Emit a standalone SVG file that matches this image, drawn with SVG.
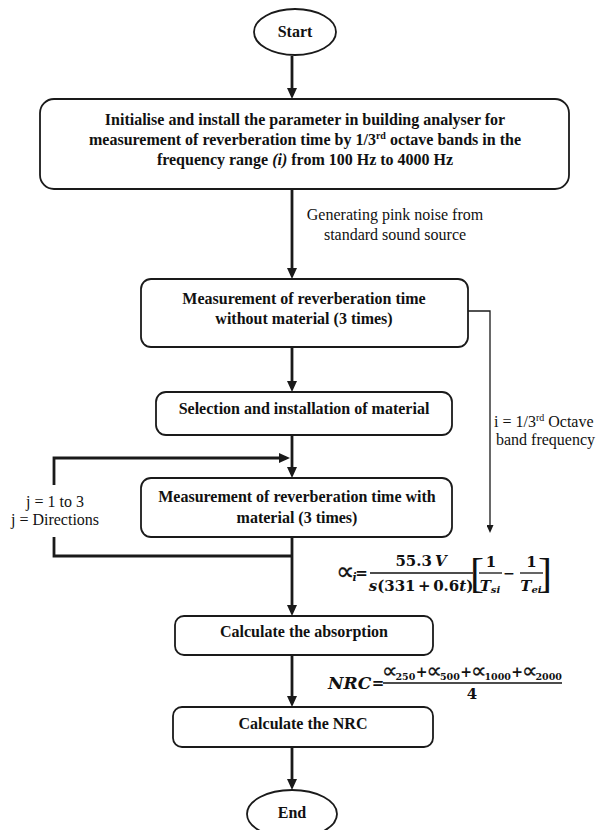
<svg xmlns="http://www.w3.org/2000/svg" width="596" height="830" viewBox="0 0 596 830">
<defs>
<style>
.box{fill:#fff;stroke:#1a1a1a;stroke-width:1.8}
.t{font-family:"Liberation Serif","Times New Roman",serif;font-size:16px;font-weight:bold;fill:#111;text-anchor:middle}
.n{font-family:"Liberation Serif","Times New Roman",serif;font-size:16px;fill:#111}
.c{fill:none;stroke:#1a1a1a;stroke-width:2.8}
.thin{fill:none;stroke:#1a1a1a;stroke-width:1.3}
.m{font-family:"DejaVu Serif",serif;font-weight:bold;fill:#111;stroke:none}
.p{font-family:"DejaVu Sans","Noto Sans",sans-serif;font-weight:normal;fill:#111;stroke:#111;stroke-width:0.25}
.br{font-family:"Liberation Serif",serif;font-size:42px;fill:#111}
.bar{stroke:#111;stroke-width:1.3}
</style>
<marker id="ah" viewBox="0 0 11 10" markerWidth="11" markerHeight="10" refX="7" refY="5" orient="auto" markerUnits="userSpaceOnUse">
<path d="M0,0 L11,5 L0,10 z" fill="#1a1a1a"/>
</marker>
<marker id="ahs" viewBox="0 0 8 7" markerWidth="8" markerHeight="7" refX="6" refY="3.5" orient="auto" markerUnits="userSpaceOnUse">
<path d="M0,0 L8,3.5 L0,7 z" fill="#1a1a1a"/>
</marker>
</defs>
<rect width="596" height="830" fill="#fff"/>

<g id="connectors">
<path class="c" d="M292,56 V95" marker-end="url(#ah)"/>
<path class="c" d="M292,189 V275" marker-end="url(#ah)"/>
<path class="c" d="M292,347 V388" marker-end="url(#ah)"/>
<path class="c" d="M292,435 V474" marker-end="url(#ah)"/>
<path class="c" d="M54,485 V458 H286" marker-end="url(#ah)"/>
<path class="c" d="M292,556 H54 V537"/>
<path class="c" d="M292,537 V612" marker-end="url(#ah)"/>
<path class="c" d="M292,655 V703" marker-end="url(#ah)"/>
<path class="c" d="M292,747 V786" marker-end="url(#ah)"/>
<path class="thin" d="M468,311 H490 V531" marker-end="url(#ahs)"/>
</g>

<g id="start">
<ellipse cx="295" cy="32" rx="41" ry="23" class="box"/>
<text class="t" x="295" y="37">Start</text>
</g>

<g id="init">
<rect class="box" x="40" y="99" width="529" height="90" rx="14"/>
<text class="t" x="305" y="125">Initialise and install the parameter in building analyser for</text>
<text class="t" x="305" y="145">measurement of reverberation time by 1/3<tspan font-size="10" dy="-6">rd</tspan><tspan dy="6"> octave bands in the</tspan></text>
<text class="t" x="305" y="165">frequency range <tspan font-style="italic">(i)</tspan> from 100 Hz to 4000 Hz</text>
</g>

<g id="label-pink">
<text class="n" x="395" y="220" text-anchor="middle">Generating pink noise from</text>
<text class="n" x="395" y="240" text-anchor="middle">standard sound source</text>
</g>

<g id="without">
<rect class="box" x="141" y="279" width="327" height="68" rx="10"/>
<text class="t" x="304" y="304">Measurement of reverberation time</text>
<text class="t" x="304" y="324">without material (3 times)</text>
</g>

<g id="label-i">
<text class="n" x="494" y="427">i = 1/3<tspan font-size="10" dy="-6">rd</tspan><tspan dy="6"> Octave</tspan></text>
<text class="n" x="496" y="445">band frequency</text>
</g>

<g id="select">
<rect class="box" x="156" y="392" width="296" height="43" rx="10"/>
<text class="t" x="304" y="414">Selection and installation of material</text>
</g>

<g id="label-j">
<text class="n" x="55" y="507" text-anchor="middle">j = 1 to 3</text>
<text class="n" x="55" y="525" text-anchor="middle">j = Directions</text>
</g>

<g id="with">
<rect class="box" x="141" y="478" width="311" height="59" rx="10"/>
<text class="t" x="297" y="502">Measurement of reverberation time with</text>
<text class="t" x="297" y="523">material (3 times)</text>
</g>

<g id="formula-alpha">
<text class="p" x="336" y="580" font-size="26">∝<tspan class="m" font-size="11" font-style="italic" x="352.5" y="581">i</tspan></text>
<text class="m" x="361.5" y="578" font-size="15" text-anchor="middle">=</text>
<line class="bar" x1="370" y1="573" x2="473" y2="573"/>
<text class="m" x="421" y="566" font-size="15" text-anchor="middle">55.3<tspan font-style="italic" dx="3">V</tspan></text>
<text class="m" x="421" y="591" font-size="15" text-anchor="middle"><tspan font-style="italic">s</tspan>(331<tspan dx="2.5">+</tspan><tspan dx="2.5">0.6</tspan><tspan font-style="italic">t</tspan>)</text>
<text class="br" x="470" y="587">[</text>
<text class="m" x="491" y="567" font-size="15" text-anchor="middle">1</text>
<line class="bar" x1="479" y1="573" x2="502" y2="573"/>
<text class="m" x="490" y="591" font-size="15" text-anchor="middle" font-style="italic">T<tspan font-size="10" dy="2">si</tspan></text>
<text class="m" x="509" y="578" font-size="14" text-anchor="middle">−</text>
<text class="m" x="531.5" y="567" font-size="15" text-anchor="middle">1</text>
<line class="bar" x1="520" y1="573" x2="543" y2="573"/>
<text class="m" x="531" y="591" font-size="15" text-anchor="middle" font-style="italic">T<tspan font-size="10" dy="2">ei</tspan></text>
<text class="br" x="538" y="587">]</text>
</g>

<g id="absorption">
<rect class="box" x="175" y="616" width="258" height="39" rx="9"/>
<text class="t" x="304" y="637">Calculate the absorption</text>
</g>

<g id="formula-nrc">
<text class="m" x="328" y="689" font-size="17" font-style="italic">NRC</text>
<text class="m" x="378" y="688" font-size="15" text-anchor="middle">=</text>
<line class="bar" x1="383" y1="683" x2="562" y2="683"/>
<text class="p" x="382" y="678" font-size="22">∝<tspan class="m" font-size="9.5" x="395.5" y="680">250</tspan></text>
<text class="m" x="421.5" y="677" font-size="14" text-anchor="middle">+</text>
<text class="p" x="426.5" y="678" font-size="22">∝<tspan class="m" font-size="9.5" x="440" y="680">500</tspan></text>
<text class="m" x="466" y="677" font-size="14" text-anchor="middle">+</text>
<text class="p" x="471" y="678" font-size="22">∝<tspan class="m" font-size="9.5" x="484.5" y="680">1000</tspan></text>
<text class="m" x="517" y="677" font-size="14" text-anchor="middle">+</text>
<text class="p" x="522" y="678" font-size="22">∝<tspan class="m" font-size="9.5" x="535.5" y="680">2000</tspan></text>
<text class="m" x="472" y="699" font-size="15" text-anchor="middle">4</text>
</g>

<g id="nrc">
<rect class="box" x="173" y="707" width="260" height="40" rx="9"/>
<text class="t" x="303" y="729">Calculate the NRC</text>
</g>

<g id="end">
<ellipse cx="292" cy="814" rx="45" ry="24" class="box"/>
<text class="t" x="292" y="818">End</text>
</g>
</svg>
